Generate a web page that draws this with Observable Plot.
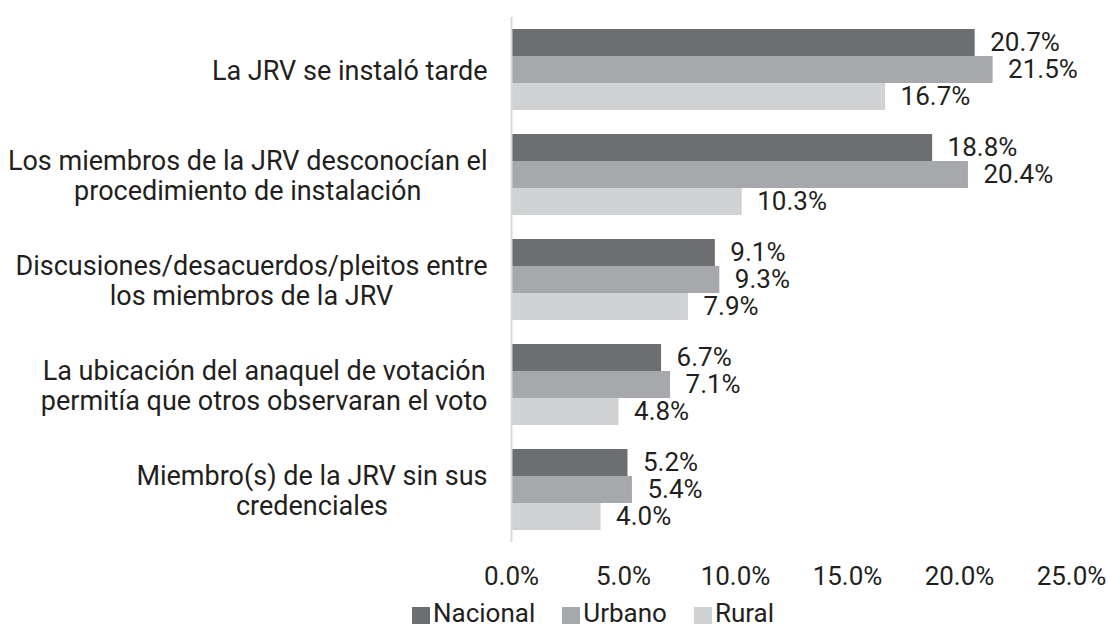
<!DOCTYPE html>
<html>
<head>
<meta charset="utf-8">
<script src="https://cdn.jsdelivr.net/npm/d3@7"></script>
<script src="https://cdn.jsdelivr.net/npm/@observablehq/plot@0.6"></script>
<style>
  html, body { margin: 0; padding: 0; background: #fff; }
  body { width: 1109px; height: 627px; overflow: hidden; font-family: Roboto, sans-serif; }
  #legend { display: flex; justify-content: flex-start; margin-left: 412px; margin-top: 3px; font-size: 26px; line-height: 30px; color: #231f20; }
  #legend .item { display: flex; align-items: center; margin-right: 27px; }
  #legend .sw { width: 18px; height: 17px; margin-right: 3px; margin-top: 5px; }
</style>
</head>
<body>
<div id="chart"></div>
<div id="legend"></div>
<script>
const categories = [
  "La JRV se instaló tarde",
  "Los miembros de la JRV desconocían el\nprocedimiento de instalación",
  "Discusiones/desacuerdos/pleitos entre\nlos miembros de la JRV",
  "La ubicación del anaquel de votación\npermitía que otros observaran el voto",
  "Miembro(s) de la JRV sin sus\ncredenciales"
];
const series = ["Nacional", "Urbano", "Rural"];
const nacional = [20.7, 18.8, 9.1, 6.7, 5.2];
const urbano = [21.5, 20.4, 9.3, 7.1, 5.4];
const rural = [16.7, 10.3, 7.9, 4.8, 4.0];
const colors = ["#6d6e71", "#a7a8ab", "#d1d2d4"];
const xTicks = [0, 5, 10, 15, 20, 25];

const seriesValues = [nacional, urbano, rural];
const data = [];
categories.forEach((c, i) => {
  series.forEach((s, j) => data.push({category: c, series: s, value: seriesValues[j][i]}));
});

const textColor = "#231f20";
const chart = Plot.plot({
  width: 1109,
  height: 595,
  marginLeft: 511,
  marginRight: 38,
  marginTop: 16,
  marginBottom: 52,
  style: {fontFamily: "Roboto, sans-serif", fontSize: "26px", color: textColor, background: "#fff"},
  x: {domain: [0, 25], label: null},
  y: {domain: series, paddingInner: 0, paddingOuter: 0.38, axis: null},
  fy: {domain: categories, padding: 0, label: null},
  color: {domain: series, range: colors},
  marks: [
    Plot.axisX({ticks: xTicks, tickFormat: d => d.toFixed(1) + "%", tickSize: 0, tickPadding: 24, label: null, fontSize: 26, fill: textColor}),
    Plot.axisFy({anchor: "left", tickSize: 0, tickPadding: 24, label: null, fontSize: 27, lineHeight: 1.11, fill: textColor}),
    Plot.barX(data, {fy: "category", y: "series", x: "value", fill: "series"}),
    Plot.text(data, {fy: "category", y: "series", x: "value", text: d => d.value.toFixed(1) + "%", textAnchor: "start", dx: 15, fill: textColor, fontSize: 26}),
    Plot.ruleX([0], {stroke: "#d9d9d9", strokeWidth: 2})
  ]
});
document.getElementById("chart").appendChild(chart);

// center multi-line category labels relative to each other (right-aligned block)
chart.querySelectorAll('g[aria-label="fy-axis tick label"] text').forEach(t => {
  const spans = t.querySelectorAll("tspan");
  if (spans.length > 1) {
    let W = 0;
    spans.forEach(s => { W = Math.max(W, s.getComputedTextLength()); });
    t.setAttribute("text-anchor", "middle");
    spans.forEach(s => {
      const x0 = parseFloat(s.getAttribute("x")) || 0;
      s.setAttribute("x", x0 - W / 2);
    });
  }
});

const legend = document.getElementById("legend");
series.forEach((s, i) => {
  const item = document.createElement("div");
  item.className = "item";
  const sw = document.createElement("div");
  sw.className = "sw";
  sw.style.background = colors[i];
  const label = document.createElement("span");
  label.textContent = s;
  item.appendChild(sw);
  item.appendChild(label);
  legend.appendChild(item);
});
</script>
</body>
</html>
